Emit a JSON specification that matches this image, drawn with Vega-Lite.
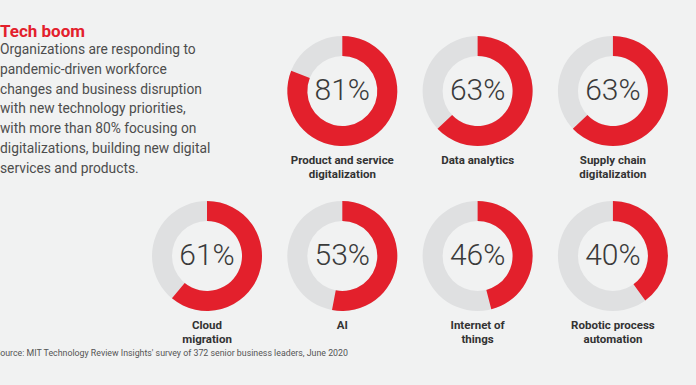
{
  "$schema": "https://vega.github.io/schema/vega-lite/v6.json",
  "width": 696,
  "height": 385,
  "autosize": "none",
  "padding": 0,
  "background": "#f1f2f2",
  "config": {"view": {"stroke": null}, "font": "Roboto"},
  "datasets": {
    "donuts": [
      {"label": "Product and service\ndigitalization", "share": 0.81, "col": 2, "row": 1},
      {"label": "Data analytics", "share": 0.63, "col": 3, "row": 1},
      {"label": "Supply chain\ndigitalization", "share": 0.63, "col": 4, "row": 1},
      {"label": "Cloud\nmigration", "share": 0.61, "col": 1, "row": 2},
      {"label": "AI", "share": 0.53, "col": 2, "row": 2},
      {"label": "Internet of\nthings", "share": 0.46, "col": 3, "row": 2},
      {"label": "Robotic process\nautomation", "share": 0.40, "col": 4, "row": 2}
    ],
    "notes": [
      {"part": "heading", "text": "Tech boom"},
      {"part": "body", "text": "Organizations are responding to\npandemic-driven workforce\nchanges and business disruption\nwith new technology priorities,\nwith more than 80% focusing on\ndigitalizations, building new digital\nservices and products."},
      {"part": "source", "text": "Source: MIT Technology Review Insights' survey of 372 senior business leaders, June 2020"}
    ]
  },
  "layer": [
    {
      "data": {"name": "donuts"},
      "mark": {"type": "arc", "innerRadius": 35, "outerRadius": 55, "color": "#dfe0e1"},
      "encoding": {
        "x": {"field": "col", "type": "quantitative", "axis": null, "scale": {"domain": [-0.53, 4.614], "zero": false, "nice": false}},
        "y": {"field": "row", "type": "quantitative", "axis": null, "scale": {"domain": [0.4485, 2.782], "zero": false, "nice": false, "reverse": true}},
        "theta": {"datum": 0, "type": "quantitative", "scale": {"domain": [0, 1], "range": [0, 6.2832]}},
        "theta2": {"datum": 1}
      }
    },
    {
      "data": {"name": "donuts"},
      "mark": {"type": "arc", "innerRadius": 35, "outerRadius": 55, "color": "#e3202c"},
      "encoding": {
        "x": {"field": "col", "type": "quantitative"},
        "y": {"field": "row", "type": "quantitative"},
        "theta": {"field": "share", "type": "quantitative", "stack": null},
        "theta2": {"datum": 0}
      }
    },
    {
      "data": {"name": "donuts"},
      "mark": {"type": "text", "fontSize": 30, "fontWeight": 300, "color": "#3a3a3a", "align": "center", "baseline": "middle"},
      "encoding": {
        "x": {"field": "col", "type": "quantitative"},
        "y": {"field": "row", "type": "quantitative"},
        "text": {"field": "share", "type": "quantitative", "format": ".0%"}
      }
    },
    {
      "data": {"name": "donuts"},
      "mark": {"type": "text", "fontSize": 11.5, "fontWeight": "bold", "color": "#333333", "align": "center", "baseline": "top", "dy": 64, "lineBreak": "\n", "lineHeight": 14},
      "encoding": {
        "x": {"field": "col", "type": "quantitative"},
        "y": {"field": "row", "type": "quantitative"},
        "text": {"field": "label", "type": "nominal"}
      }
    },
    {
      "data": {"name": "notes"},
      "transform": [{"filter": "datum.part === 'heading'"}],
      "mark": {"type": "text", "fontSize": 17, "fontWeight": "bold", "color": "#e3202c", "align": "left", "baseline": "top"},
      "encoding": {
        "x": {"datum": -0.53, "type": "quantitative"},
        "y": {"datum": 0.594, "type": "quantitative"},
        "text": {"field": "text", "type": "nominal"}
      }
    },
    {
      "data": {"name": "notes"},
      "transform": [{"filter": "datum.part === 'body'"}],
      "mark": {"type": "text", "fontSize": 13.8, "color": "#4d4d4d", "align": "left", "baseline": "top", "lineBreak": "\n", "lineHeight": 19.8},
      "encoding": {
        "x": {"datum": -0.53, "type": "quantitative"},
        "y": {"datum": 0.709, "type": "quantitative"},
        "text": {"field": "text", "type": "nominal"}
      }
    },
    {
      "data": {"name": "notes"},
      "transform": [{"filter": "datum.part === 'source'"}],
      "mark": {"type": "text", "fontSize": 8.8, "color": "#555555", "align": "left", "baseline": "middle"},
      "encoding": {
        "x": {"datum": -0.567, "type": "quantitative"},
        "y": {"datum": 2.588, "type": "quantitative"},
        "text": {"field": "text", "type": "nominal"}
      }
    }
  ]
}
